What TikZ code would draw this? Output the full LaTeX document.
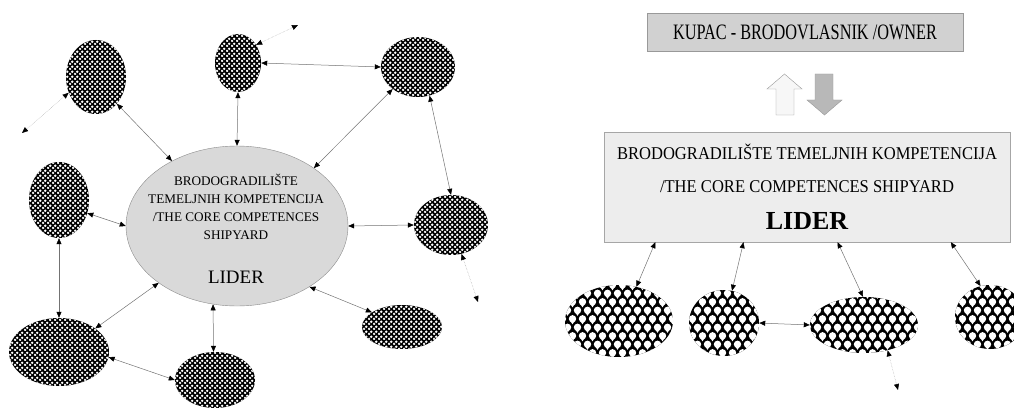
\documentclass[tikz,border=0pt]{standalone}
\usepackage{fontspec}
\setmainfont{Liberation Serif}
\newfontfamily\boxfont[FakeStretch=0.92]{Liberation Serif}
\newfontfamily\ownerfont[FakeStretch=0.74]{Liberation Serif}
\usetikzlibrary{arrows.meta,patterns.meta,shapes.geometric}
\tikzdeclarepattern{
  name=finedots, type=uncolored,
  bottom left={(0pt,0pt)}, top right={(4.6pt,4.6pt)},
  tile size={(4.6pt,4.6pt)},
  code={
    \fill (1.15pt,1.15pt) circle (1.45pt);
    \fill (3.45pt,3.45pt) circle (1.45pt);
  }
}
\tikzdeclarepattern{
  name=fishscale, type=uncolored,
  bottom left={(-2pt,-2pt)}, top right={(12pt,19pt)},
  tile size={(10pt,17pt)},
  code={
    \fill (2.5pt,5.2pt) circle (3.7pt);
    \fill (0.3pt,3pt) -- (4.7pt,3pt) -- (2.5pt,-0.3pt) -- cycle;
    \fill (7.5pt,13.7pt) circle (3.7pt);
    \fill (5.3pt,11.5pt) -- (9.7pt,11.5pt) -- (7.5pt,8.2pt) -- cycle;
  }
}
\tikzset{>={Triangle[length=6pt,width=5pt,color=black]}}

\begin{document}
\begin{tikzpicture}[x=1pt, y=-1pt,
            dots/.style={ellipse, inner sep=0pt, preaction={fill=black}, pattern=finedots, pattern color=white},
            scales/.style={ellipse, inner sep=0pt, preaction={fill=black}, pattern=fishscale, pattern color=white},
            link/.style={draw=black!55, line width=0.5pt, <->},
            outlink/.style={link, draw=black!30, densely dotted}
            ]
            \useasboundingbox (0,0) rectangle (1014,409);
            % left: the leader among its partners
            \node[ellipse, draw=black!45, fill=black!15, minimum width=222pt, minimum height=160pt] (lider) at (237,226) {};
            \node[align=center, font=\fontsize{13.2}{18}\selectfont] (lidertext) at (236,207)
                {BRODOGRADILIŠTE\\TEMELJNIH KOMPETENCIJA\\/THE CORE COMPETENCES\\SHIPYARD};
            \node[font=\fontsize{19}{19}\selectfont] (lidername) at (236,277) {LIDER};
            \node[dots, minimum width=60pt, minimum height=74pt] (e1) at (96,77) {};
            \node[dots, minimum width=46pt, minimum height=58pt] (e2) at (238,63) {};
            \node[dots, minimum width=74pt, minimum height=60pt] (e3) at (418,67) {};
            \node[dots, minimum width=60pt, minimum height=76pt] (e4) at (59,200) {};
            \node[dots, minimum width=74pt, minimum height=60pt] (e5) at (451,225) {};
            \node[dots, minimum width=100pt, minimum height=68pt] (e6) at (59,352) {};
            \node[dots, minimum width=80pt, minimum height=56pt] (e7) at (215,380) {};
            \node[dots, minimum width=80pt, minimum height=44pt] (e8) at (402,327) {};
            \coordinate (o1) at (22,133);
            \coordinate (o2) at (298,25);
            \coordinate (o3) at (478,302);
            \draw[link] (e1.-52) -- (lider.135);
            \draw[outlink] (e1.-150) -- (o1);
            \draw[link] (e2.-90) -- (lider.90);
            \draw[outlink] (e2.45) -- (o2);
            \draw[link] (e2.0) -- (e3.180);
            \draw[link] (e3.-139) -- (lider.37);
            \draw[link] (e3.-68) -- (e5.90);
            \draw[link] (e4.-25) -- (lider.180);
            \draw[link] (e4.-90) -- (e6.90);
            \draw[link] (lider.0) -- (e5.180);
            \draw[outlink] (e5.-70) -- (o3);
            \draw[link] (lider.-40) -- (e8.154);
            \draw[link] (lider.-107) -- (e7.93);
            \draw[link] (lider.-144) -- (e6.33);
            \draw[link] (e6.-6) -- (e7.180);
            % right: owner above the leader
            \node[draw=black!40, fill=black!18, minimum width=316pt, minimum height=38pt,
                font=\ownerfont\fontsize{22}{22}\selectfont] (owner) at (805,32) {KUPAC - BRODOVLASNIK /OWNER};
            \filldraw[draw=black!40, fill=black!3] (776,115) -- (776,89) -- (767,89) -- (784.5,74)
                -- (802,89) -- (794,89) -- (794,115) -- cycle;
            \filldraw[draw=black!40, fill=black!28] (815,74) -- (833,74) -- (833,100) -- (842,100)
                -- (824.5,115) -- (807,100) -- (815,100) -- cycle;
            \node[draw=black!35, fill=black!7, minimum width=406pt, minimum height=110pt, align=center,
                font=\boxfont\fontsize{18}{33}\selectfont] (leader) at (807,187)
                {BRODOGRADILIŠTE TEMELJNIH KOMPETENCIJA\\/THE CORE COMPETENCES SHIPYARD\\[4pt]
                 {\rmfamily\bfseries\fontsize{26}{26}\selectfont LIDER}};
            \node[scales, minimum width=108pt, minimum height=72pt] (b1) at (619,321) {};
            \node[scales, minimum width=70pt, minimum height=66pt] (b2) at (724,323) {};
            \node[scales, minimum width=108pt, minimum height=56pt] (b3) at (864,325) {};
            \node[scales, minimum width=70pt, minimum height=64pt] (b4) at (990,317) {};
            \coordinate (o4) at (898,390);
            \draw[link] (b1.63) -- (leader.-160);
            \draw[link] (b2.76) -- (leader.-139);
            \draw[link] (b3.92) -- (leader.-61);
            \draw[link] (b4.107) -- (leader.-21);
            \draw[link] (b2.0) -- (b3.180);
            \draw[outlink] (b3.-47) -- (o4);
        \end{tikzpicture}
\end{document}
